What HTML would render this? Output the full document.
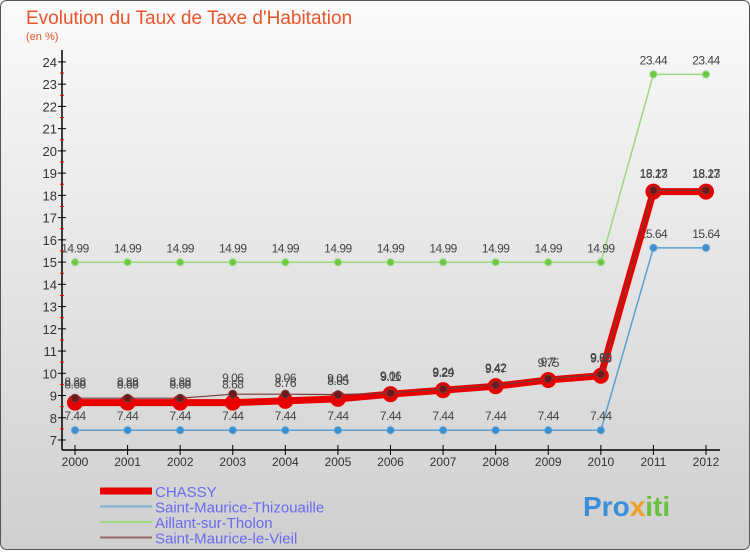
<!DOCTYPE html>
<html><head><meta charset="utf-8"><style>
body{margin:0;}
#c{width:750px;height:550px;position:relative;font-family:"Liberation Sans",sans-serif;}
</style></head><body>
<div id="c">
<svg id="svg" width="750" height="550" xmlns="http://www.w3.org/2000/svg">
<defs><linearGradient id="bg" x1="0" y1="0" x2="0" y2="1"><stop offset="0" stop-color="#fafafa"/><stop offset="1" stop-color="#cfcfcf"/></linearGradient></defs>
<rect x="0.5" y="0.5" width="749" height="549" rx="6" fill="url(#bg)" stroke="#555"/>
<text x="26" y="24" font-size="19" fill="#e8552a">Evolution du Taux de Taxe d'Habitation</text>
<text x="26" y="40" font-size="11" fill="#e8552a">(en %)</text>
<g id="axes"></g><g id="series"></g><g id="legend"></g>
<text x="583" y="516" font-size="28" font-weight="bold" fill="#3a8fd8">Pro<tspan fill="#f0a020">x</tspan><tspan fill="#6ac040">iti</tspan></text>
</svg>
</div>
<script>
const years=[2000,2001,2002,2003,2004,2005,2006,2007,2008,2009,2010,2011,2012];
const chassy=[8.68,8.68,8.68,8.68,8.76,8.85,9.06,9.24,9.42,9.7,9.89,18.17,18.17];
const thizouaille=[7.44,7.44,7.44,7.44,7.44,7.44,7.44,7.44,7.44,7.44,7.44,15.64,15.64];
const aillant=[14.99,14.99,14.99,14.99,14.99,14.99,14.99,14.99,14.99,14.99,14.99,23.44,23.44];
const vieil=[8.88,8.88,8.88,9.06,9.06,9.04,9.11,9.29,9.47,9.75,9.95,18.23,18.23];
const yTicks=[7,8,9,10,11,12,13,14,15,16,17,18,19,20,21,22,23,24];
const names=["CHASSY","Saint-Maurice-Thizouaille","Aillant-sur-Tholon","Saint-Maurice-le-Vieil"];
const NS="http://www.w3.org/2000/svg";
function X(i){return 75+i*(706-75)/(years.length-1);}
function Y(v){return 440-(v-7)*22.24;}
function mk(t,a,p){const e=document.createElementNS(NS,t);for(const k in a)e.setAttribute(k,a[k]);p.appendChild(e);return e;}
const ax=document.getElementById('axes');
let l=mk('line',{x1:62,y1:50,x2:62,y2:450,stroke:'#000','stroke-width':1.5},ax);


l=mk('line',{x1:62,y1:450,x2:720,y2:450,stroke:'#000','stroke-width':1.5},ax);


yTicks.forEach(v=>{
 mk('line',{x1:58,y1:Y(v),x2:66,y2:Y(v),stroke:'#000'},ax);
 if(v<24)mk('line',{x1:60,y1:Y(v+0.5),x2:64,y2:Y(v+0.5),stroke:'#e00'},ax);
 const t=mk('text',{x:57,y:Y(v)+5,'text-anchor':'end','font-size':13,fill:'#333'},ax);t.textContent=v;
 
 
});
years.forEach((y,i)=>{
 mk('line',{x1:X(i),y1:445,x2:X(i),y2:455,stroke:'#000'},ax);
 const t=mk('text',{x:X(i),y:466,'text-anchor':'middle','font-size':12,fill:'#333'},ax);t.textContent=y;
 
 
});
const sg=document.getElementById('series');
function draw(d,color,w,pc,pr,nm,lblOff){
 const g=mk('g',{},sg);
 
 
 mk('polyline',{points:d.map((v,i)=>X(i)+','+Y(v)).join(' '),fill:'none',stroke:color,'stroke-width':w,'stroke-linejoin':'round'},g);
 d.forEach((v,i)=>{
  mk('circle',{cx:X(i),cy:Y(v),r:pr,fill:pc,stroke:color,'stroke-width':1},g);
  const t=mk('text',{x:X(i),y:Y(v)+lblOff,'text-anchor':'middle','font-size':12,fill:'#444','letter-spacing':'-0.5'},g);t.textContent=v;
 });
}
draw(thizouaille,'#5a9fd0',1.5,'#3a8fd0',3.5,'series-thizouaille',-10);
draw(aillant,'#9cd880',1.5,'#6cc840',3.5,'series-aillant',-10);
draw(chassy,'#e80000',7,'#e80000',7.5,'series-chassy',-14);
draw(vieil,'#7a3a3a',1.2,'#6a1a1a',4,'series-vieil',-12);
const lg=document.getElementById('legend');
const lc=['#e80000','#7ab0d0','#9cd880','#9a6a6a'],lw=[7,2,2,2];
names.forEach((n,i)=>{
 const y=492+i*15.5;
 const g=mk('g',{},lg);
 
 
 mk('line',{x1:100,y1:y-1,x2:152,y2:y-1,stroke:lc[i],'stroke-width':lw[i]},g);
 const t=mk('text',{x:155,y:y+5,'font-size':15,fill:'#6a6af0'},g);t.textContent=n;
});
</script>
</body></html>
